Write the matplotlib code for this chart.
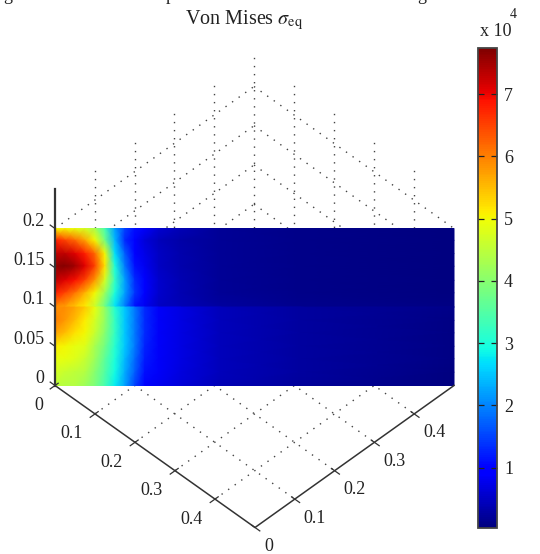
import matplotlib
matplotlib.use("Agg")
import matplotlib.pyplot as plt
import numpy as np

plt.rcParams['font.family'] = ['Liberation Serif', 'DejaVu Serif']
plt.rcParams['mathtext.fontset'] = 'stix'

W, H = 540, 554

# position along the plate (x = y = s), values are in units of 1e4
s_vals = [0, .0125, .025, .0375, .05, .0625, .075, .0875, .1, .1125, .13, .157, .207, .308, .5]
z_vals = [.2, .185, .168, .152, .134, .118, .1002, .0998, .083, .067, .05, .034, .017, 0]

row_00 = [5.0, 5.0, 4.9, 4.7, 4.3, 3.4, 2.2, 1.5, 1.1, .85, .6, .4, .2, .1, .04]
row_01 = [6.8, 6.5, 6.2, 5.7, 5.0, 3.8, 2.4, 1.3, .9, .65, .45, .32, .2, .1, .04]
row_02 = [7.3, 7.3, 7.1, 6.8, 6.2, 5.0, 2.7, 1.7, 1.0, .75, .5, .35, .2, .1, .04]
row_03 = [7.6, 7.7, 7.5, 7.1, 6.5, 5.2, 3.0, 1.9, 1.1, .8, .5, .35, .2, .1, .04]
row_04 = [7.3, 7.1, 6.9, 6.5, 5.8, 4.7, 3.2, 2.2, 1.3, .9, .55, .38, .2, .1, .04]
row_05 = [6.8, 6.5, 6.1, 5.6, 5.0, 4.2, 3.0, 2.2, 1.4, .95, .55, .38, .2, .1, .04]
row_06 = [5.9, 5.7, 5.4, 5.1, 4.6, 3.7, 2.7, 1.9, 1.1, .8, .5, .4, .25, .15, .08]
row_07 = [5.9, 5.9, 5.7, 5.4, 4.9, 4.1, 3.1, 2.5, 1.9, 1.3, .85, .7, .45, .25, .1]
row_08 = [6.0, 5.8, 5.5, 5.1, 4.7, 4.1, 3.2, 2.5, 1.9, 1.3, .85, .7, .45, .25, .08]
row_09 = [5.7, 5.5, 5.2, 5.0, 4.6, 4.0, 3.2, 2.5, 1.9, 1.3, .85, .7, .45, .25, .08]
row_10 = [5.1, 5.0, 4.9, 4.8, 4.3, 3.8, 3.1, 2.5, 1.9, 1.25, .85, .7, .45, .25, .08]
row_11 = [4.9, 4.9, 4.8, 4.6, 4.2, 3.6, 3.0, 2.4, 1.8, 1.2, .85, .7, .45, .25, .07]
row_12 = [4.7, 4.6, 4.5, 4.4, 4.0, 3.5, 2.9, 2.3, 1.7, 1.1, .85, .68, .45, .25, .06]
row_13 = [4.5, 4.4, 4.4, 4.2, 3.9, 3.4, 2.8, 2.2, 1.5, 1.0, .8, .65, .42, .22, .05]

rows = [row_00, row_01, row_02, row_03, row_04, row_05, row_06,
        row_07, row_08, row_09, row_10, row_11, row_12, row_13]

xy_ticks = [0, .1, .2, .3, .4]
z_ticks = [0, .05, .1, .15, .2]
z_labels = ['0', '0.05', '0.1', '0.15', '0.2']
cbar_ticks = [1, 2, 3, 4, 5, 6, 7]


def proj(x, y, z=0):
    # same view as matlab view(3), axes are in picture pixels
    return 55 + 400 * x + 398 * y, 385.5 + 284 * x - 284 * y - 785 * z


fig = plt.figure(figsize=(W / 100, H / 100), dpi=100)
ax = fig.add_axes([0, 0, 1, 1])
ax.set_xlim(0, W)
ax.set_ylim(H, 0)
ax.axis('off')

# dotted grid on floor and the two back walls
dots = dict(color='#444444', lw=1, ls=(0, (1, 4.8)), zorder=1)
top = .243
for t in xy_ticks[1:]:
    ax.plot(*zip(proj(t, 0), proj(t, .5)), **dots)
    ax.plot(*zip(proj(0, t), proj(.5, t)), **dots)
    ax.plot(*zip(proj(0, t), proj(0, t, top)), **dots)
    ax.plot(*zip(proj(t, .5), proj(t, .5, top)), **dots)
ax.plot(*zip(proj(0, .5), proj(0, .5, top)), **dots)
for z in z_ticks[1:]:
    ax.plot(*zip(proj(0, 0, z), proj(0, .5, z)), **dots)
    ax.plot(*zip(proj(0, .5, z), proj(.5, .5, z)), **dots)

# the plate
S, Z = np.meshgrid(s_vals, z_vals)
PX, PY = proj(S, S, Z)
mesh = ax.pcolormesh(PX, PY, np.array(rows), shading='gouraud', cmap='jet',
                     vmin=.03, vmax=7.74, zorder=2)

# axis lines
axc = '#333333'
ax.plot(*zip(proj(0, 0), proj(.5, 0), proj(.5, .5)), color=axc, lw=1.1, zorder=3)
ax.plot(*zip(proj(0, 0), proj(0, 0, .25)), color=axc, lw=1.6, zorder=3)

for t in xy_ticks:
    ax.plot(*zip(proj(t, -.012), proj(t, .008)), color=axc, lw=.9, zorder=3)
    ax.plot(*zip(proj(.5 + .012, t), proj(.5 - .008, t)), color=axc, lw=.9, zorder=3)
for z in z_ticks:
    ax.plot(*zip(proj(-.012, 0, z), proj(0, 0, z)), color=axc, lw=.9, zorder=3)

# tick labels
fs = 13
tc = '#222222'
for t in xy_ticks:
    lab = '0' if t == 0 else str(t)
    px, py = proj(t, 0)
    ax.text(px - 12, py + 20, lab, fontsize=fs, color=tc, ha='right', va='center')
    px, py = proj(.5, t)
    ax.text(px + 9, py + 19, lab, fontsize=fs, color=tc, ha='left', va='center')
for z, lab in zip(z_ticks, z_labels):
    px, py = proj(0, 0, z)
    ax.text(px - 10.5, py - 7, lab, fontsize=fs, color=tc, ha='right', va='center')

ax.text(244, 20, r'Von Mises $\sigma_{\mathrm{eq}}$', fontsize=14.5, color=tc, ha='center', va='center')

# bits of the line of text above, cut by the crop
for cx, ch in zip([8, 170, 297, 422], ['g', 'p', '2', 'g']):
    ax.text(cx, 0, ch, fontsize=13, color='#222222', ha='center', va='baseline')

# colorbar
cax = fig.add_axes([478 / W, 1 - 528 / H, 19 / W, 480 / H])
cb = fig.colorbar(mesh, cax=cax, ticks=cbar_ticks)
cb.ax.tick_params(axis='y', direction='in', length=4, width=.9, left=True, right=True,
                  labelsize=fs, labelcolor=tc, pad=5, color='#222222')
cb.outline.set_edgecolor('#444444')
cb.outline.set_linewidth(1.3)
ax.text(480, 31, 'x 10', fontsize=fs, color=tc, ha='left', va='center')
ax.text(513, 15, '4', fontsize=10, color=tc, ha='center', va='center')

fig.savefig('out.png', dpi=100)
